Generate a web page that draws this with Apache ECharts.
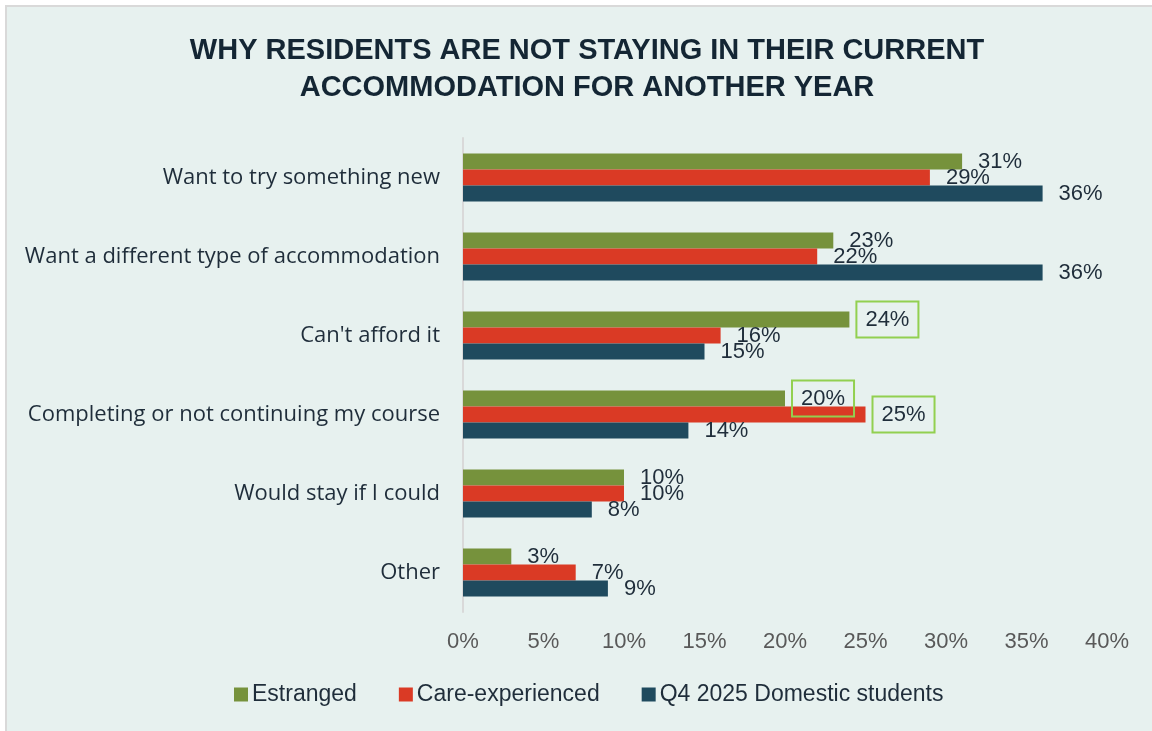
<!DOCTYPE html>
<html>
<head>
<meta charset="utf-8">
<script src="https://cdn.jsdelivr.net/npm/echarts@6/dist/echarts.min.js"></script>
<style>
html,body{margin:0;padding:0;background:#ffffff;width:1152px;height:731px;overflow:hidden;}
#bg{position:absolute;left:5px;top:5px;width:1200px;height:800px;background:#E7F1EF;border-left:2px solid #D9D9D9;border-top:2px solid #D9D9D9;}
#chart{position:absolute;left:0;top:0;width:1152px;height:731px;}
</style>
</head>
<body>
<div id="bg"></div>
<div id="chart"></div>
<script>
const categories = [
  "Want to try something new",
  "Want a different type of accommodation",
  "Can't afford it",
  "Completing or not continuing my course",
  "Would stay if I could",
  "Other"
];
const seriesNames = ["Estranged", "Care-experienced", "Q4 2025 Domestic students"];
const estranged = [31, 23, 24, 20, 10, 3];
const careExperienced = [29, 22, 16, 25, 10, 7];
const domestic = [36, 36, 15, 14, 8, 9];
// indices of highlighted (boxed) labels per series
const boxedEstranged = [2, 3];
const boxedCare = [3];
const boxedDomestic = [];
const xTicks = [0, 5, 10, 15, 20, 25, 30, 35, 40];

const colors = ["#76923C", "#DA3A25", "#1F4A5E"];
const textDark = "#1F2D3A";
const sans = "Liberation Sans, Arial, sans-serif";

function makeData(vals, boxed) {
  return vals.map((v, i) => {
    if (boxed.indexOf(i) >= 0) {
      return { value: v, label: { borderColor: "#92D050", borderWidth: 2 } };
    }
    return v;
  });
}

function makeSeries(name, vals, boxed, color) {
  return {
    name: name,
    type: "bar",
    data: makeData(vals, boxed),
    barWidth: 16,
    barGap: "0%",
    itemStyle: { color: color },
    label: {
      show: true,
      position: "right",
      distance: 7,
      padding: [7, 9],
      formatter: p => p.value + "%",
      color: textDark,
      fontSize: 22,
      fontFamily: sans
    }
  };
}

const chart = echarts.init(document.getElementById("chart"), null, { renderer: "canvas" });
chart.setOption({
  backgroundColor: "transparent",
  animation: false,
  color: colors,
  title: {
    text: "WHY RESIDENTS ARE NOT STAYING IN THEIR CURRENT\nACCOMMODATION FOR ANOTHER YEAR",
    left: 582,
    top: 27,
    textAlign: "center",
    textStyle: {
      fontSize: 29,
      fontWeight: "bold",
      color: "#142634",
      lineHeight: 37,
      fontFamily: sans
    }
  },
  legend: {
    bottom: 20,
    left: 229,
    itemWidth: 14,
    itemHeight: 14,
    itemGap: 42,
    icon: "rect",
    textStyle: {
      fontSize: 23,
      color: textDark,
      fontFamily: sans,
      padding: [0, 0, 0, -1]
    },
    data: seriesNames
  },
  grid: {
    left: 463,
    right: 45,
    top: 138,
    bottom: 119,
    containLabel: false
  },
  xAxis: {
    type: "value",
    min: 0,
    max: 40,
    interval: 5,
    axisLine: { show: false },
    axisTick: { show: false },
    splitLine: { show: false },
    axisLabel: {
      formatter: v => v + "%",
      color: "#595959",
      fontSize: 22,
      margin: 19,
      fontFamily: sans
    }
  },
  yAxis: {
    type: "category",
    data: categories,
    inverse: true,
    axisLine: { show: true, lineStyle: { color: "#D9D9D9", width: 2 } },
    axisTick: { show: false },
    axisLabel: {
      color: textDark,
      fontSize: 22,
      margin: 23,
      fontFamily: "Open Sans, sans-serif"
    }
  },
  series: [
    makeSeries(seriesNames[0], estranged, boxedEstranged, colors[0]),
    makeSeries(seriesNames[1], careExperienced, boxedCare, colors[1]),
    makeSeries(seriesNames[2], domestic, boxedDomestic, colors[2])
  ]
});
</script>
</body>
</html>
